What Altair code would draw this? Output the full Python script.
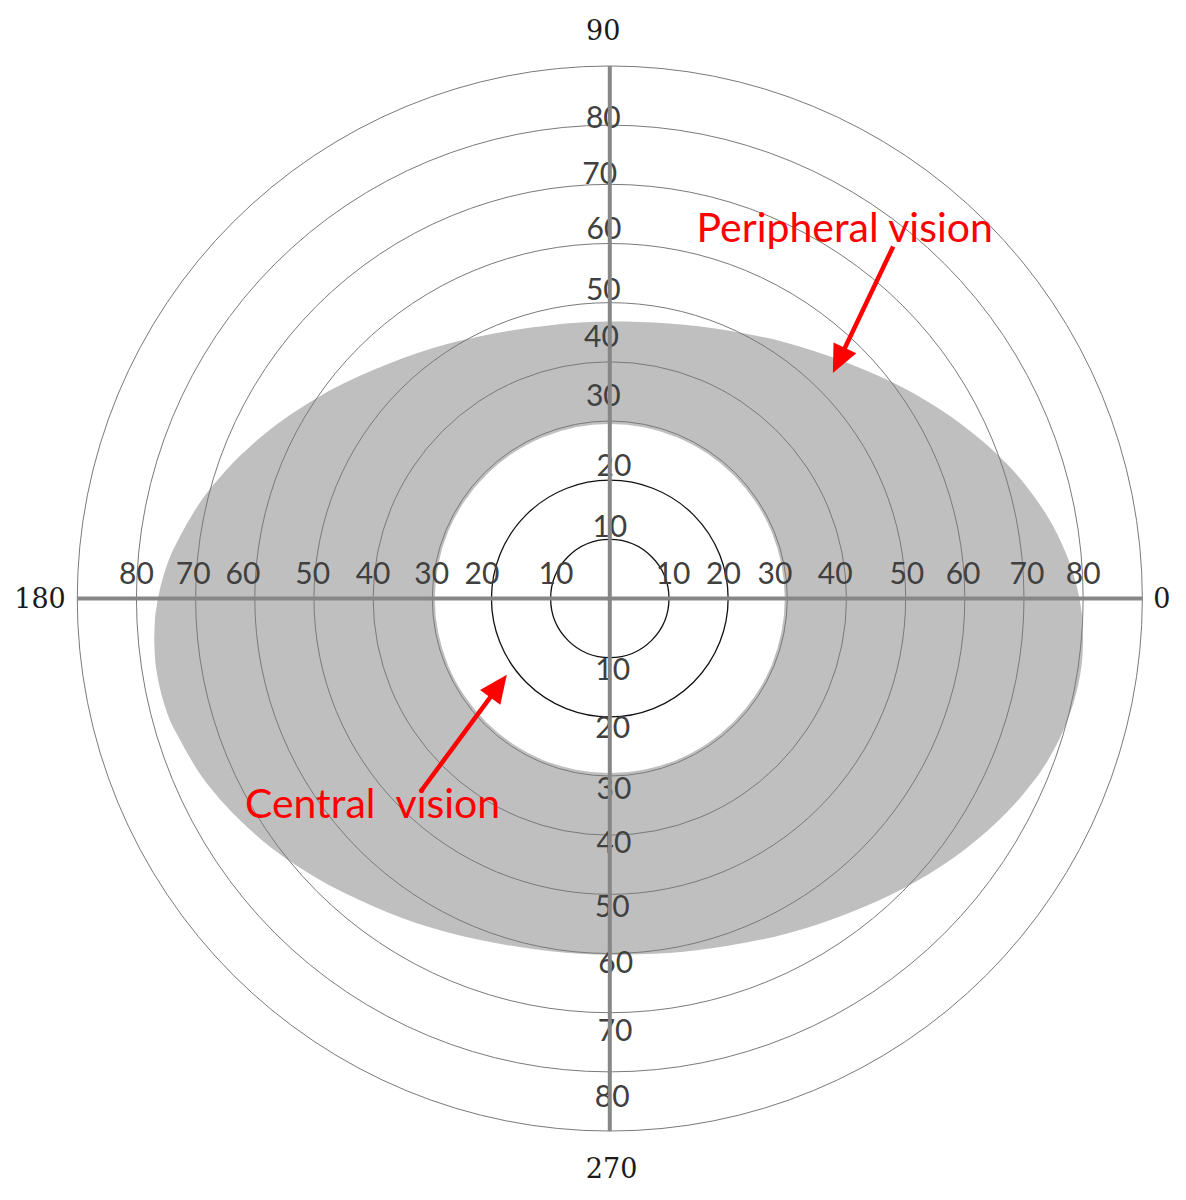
import math
import altair as alt
import pandas as pd

# ---------------- data (degrees of visual angle) ----------------
ring_values = [10, 20, 30, 40, 50, 60, 70, 80, 90]
label_values = [10, 20, 30, 40, 50, 60, 70, 80]

# ring labels along the horizontal axis (right / left) and vertical axis (up / down)
h_right_x = [10.7, 19.2, 27.9, 38.1, 50.2, 59.7, 70.5, 80.0]
h_left_x = [-9.1, -21.6, -30.1, -40.0, -50.2, -62.0, -70.4, -80.0]
h_label_y = 4.0
v_up_y = [11.9, 22.3, 34.0, 44.0, 51.9, 62.3, 71.6, 81.0]
v_up_x = [0.0, 0.7, -1.1, -1.4, -1.1, -1.0, -1.7, -1.1]
v_down_y = [-12.2, -22.1, -32.4, -41.5, -52.3, -61.8, -73.2, -84.4]
v_down_x = [0.5, 0.5, 0.7, 0.7, 0.4, 1.0, 0.9, 0.4]

# meridian labels
meridian_text = ["90", "180", "0", "270"]
meridian_x = [-1.1, -96.3, 93.3, 0.3]
meridian_y = [95.8, -0.2, -0.2, -96.6]

# peripheral field boundary (upper / lower limits along horizontal position)
field_x = [-77.0, -76.9, -76.6, -76.2, -75.5, -74.5, -73.0, -70.0, -65.0, -60.0,
           -50.0, -40.0, -30.0, -20.0, -10.0, 0.0, 10.0, 20.0, 30.0, 40.0, 50.0,
           60.0, 65.0, 70.0, 74.0, 76.0, 77.5, 78.5, 79.2, 79.6, 79.9, 80.0]
field_upper = [-6.8, -4.1, -1.4, 0.8, 3.6, 6.6, 9.8, 15.1, 21.5, 26.4,
               33.6, 38.6, 42.3, 44.7, 46.2, 46.8, 46.5, 45.3, 43.2, 39.9, 35.4,
               29.0, 24.8, 19.5, 13.8, 10.1, 6.6, 3.6, 0.8, -1.4, -4.1, -6.8]
field_lower = [-6.8, -9.5, -12.2, -14.4, -17.2, -20.2, -23.2, -28.5, -34.9, -39.8,
               -47.0, -52.0, -55.7, -58.1, -59.6, -60.2, -59.9, -58.7, -56.6, -53.3, -48.8,
               -42.4, -38.2, -32.9, -27.4, -23.7, -20.2, -17.2, -14.4, -12.2, -9.5, -6.8]
central_radius = 29.5

# annotations
annot_text = ["Peripheral vision", "Central\u00a0 vision"]
annot_x = [39.7, -40.1]
annot_y = [60.3, -37.1]
arrow_tail_x = [47.9, -31.8]
arrow_tail_y = [59.5, -32.4]
arrow_tip_x = [37.7, -17.4]
arrow_tip_y = [38.1, -12.9]

# ---------------- scales ----------------
PX = 5.917  # pixels per degree
W, H = 1170, 1176
x_dom = [-101.71, 96.03]
y_dom = [-98.95, 99.80]
xs = alt.Scale(domain=x_dom, nice=False, zero=False)
ys = alt.Scale(domain=y_dom, nice=False, zero=False)
rs = alt.Scale(type="linear", domain=[0, 90], range=[0, 90 * PX], zero=True, nice=False)
FULL = 2 * math.pi

cx = alt.XDatum(0, scale=xs, axis=None)
cy = alt.YDatum(0, scale=ys, axis=None)
rad = alt.Radius("r:Q", scale=rs, stack=None)

# ---------------- layers ----------------
field_df = pd.DataFrame({"x": field_x, "yu": field_upper, "yl": field_lower})
field = alt.Chart(field_df).mark_area(color="#bfbfbf", interpolate="monotone").encode(
    x=alt.X("x:Q", scale=xs, axis=None),
    y=alt.Y("yu:Q", scale=ys, axis=None),
    y2="yl:Q",
)

hole = alt.Chart(pd.DataFrame({"r": [central_radius]})).mark_arc(
    color="white", theta=0, theta2=FULL
).encode(x=cx, y=cy, radius=rad)

rings_df = pd.DataFrame({"r": ring_values})
rings_outer = alt.Chart(rings_df).transform_filter("datum.r > 20").mark_arc(
    theta=0, theta2=FULL, fillOpacity=0, stroke="#7a7a7a", strokeWidth=1
).encode(x=cx, y=cy, radius=rad)
rings_inner = alt.Chart(rings_df).transform_filter("datum.r <= 20").mark_arc(
    theta=0, theta2=FULL, fillOpacity=0, stroke="#111111", strokeWidth=1.3
).encode(x=cx, y=cy, radius=rad)

lab_rows = []
for i, v in enumerate(label_values):
    lab_rows.append({"t": str(v), "x": h_right_x[i], "y": h_label_y})
    lab_rows.append({"t": str(v), "x": h_left_x[i], "y": h_label_y})
    lab_rows.append({"t": str(v), "x": v_up_x[i], "y": v_up_y[i]})
    lab_rows.append({"t": str(v), "x": v_down_x[i], "y": v_down_y[i]})
ring_labels = alt.Chart(pd.DataFrame(lab_rows)).mark_text(
    font="Lato", fontSize=30, color="#404040", align="center", baseline="middle"
).encode(
    x=alt.X("x:Q", scale=xs, axis=None),
    y=alt.Y("y:Q", scale=ys, axis=None),
    text="t:N",
)

rmax = max(ring_values)
axes_df = pd.DataFrame({"x1": [-rmax, 0], "x2": [rmax, 0], "y1": [0, rmax], "y2": [0, -rmax]})
axes = alt.Chart(axes_df).mark_rule(color="#878787", strokeWidth=4).encode(
    x=alt.X("x1:Q", scale=xs, axis=None),
    x2="x2:Q",
    y=alt.Y("y1:Q", scale=ys, axis=None),
    y2="y2:Q",
)

meridians = alt.Chart(pd.DataFrame({"t": meridian_text, "x": meridian_x, "y": meridian_y})).mark_text(
    font="DejaVu Serif", fontSize=27, color="#1a1a1a", align="center", baseline="middle"
).encode(
    x=alt.X("x:Q", scale=xs, axis=None),
    y=alt.Y("y:Q", scale=ys, axis=None),
    text="t:N",
)

# arrows: shaft ends a little before the tip, head rotated along the shaft
arr_rows = []
for i in range(len(arrow_tail_x)):
    dx = arrow_tip_x[i] - arrow_tail_x[i]
    dy = arrow_tip_y[i] - arrow_tail_y[i]
    ln = math.hypot(dx, dy)
    back = 14 / PX
    arr_rows.append({
        "x1": arrow_tail_x[i], "y1": arrow_tail_y[i],
        "x2": arrow_tip_x[i] - dx / ln * back, "y2": arrow_tip_y[i] - dy / ln * back,
        "tx": arrow_tip_x[i], "ty": arrow_tip_y[i],
        "ang": math.degrees(math.atan2(dx, dy)) % 360,
    })
arr_df = pd.DataFrame(arr_rows)
shafts = alt.Chart(arr_df).mark_rule(color="#ff0000", strokeWidth=4.5).encode(
    x=alt.X("x1:Q", scale=xs, axis=None),
    x2="x2:Q",
    y=alt.Y("y1:Q", scale=ys, axis=None),
    y2="y2:Q",
)
heads = alt.Chart(arr_df).mark_point(
    shape="M0,0 L0.45,1 L-0.45,1 Z", filled=True, size=3136, color="#ff0000", opacity=1
).encode(
    x=alt.X("tx:Q", scale=xs, axis=None),
    y=alt.Y("ty:Q", scale=ys, axis=None),
    angle=alt.Angle("ang:Q", scale=None),
)

annots = alt.Chart(pd.DataFrame({"t": annot_text, "x": annot_x, "y": annot_y})).mark_text(
    font="Lato", fontSize=41, color="#ff0000", align="center", baseline="alphabetic"
).encode(
    x=alt.X("x:Q", scale=xs, axis=None),
    y=alt.Y("y:Q", scale=ys, axis=None),
    text="t:N",
)

chart = alt.layer(
    field, hole, rings_outer, rings_inner, ring_labels, axes, meridians, shafts, heads, annots
).properties(
    width=W, height=H, padding=0, autosize=alt.AutoSizeParams(type="none")
).configure_view(strokeWidth=0)

chart.save("out.html", embed_options={"renderer": "svg", "actions": False})
